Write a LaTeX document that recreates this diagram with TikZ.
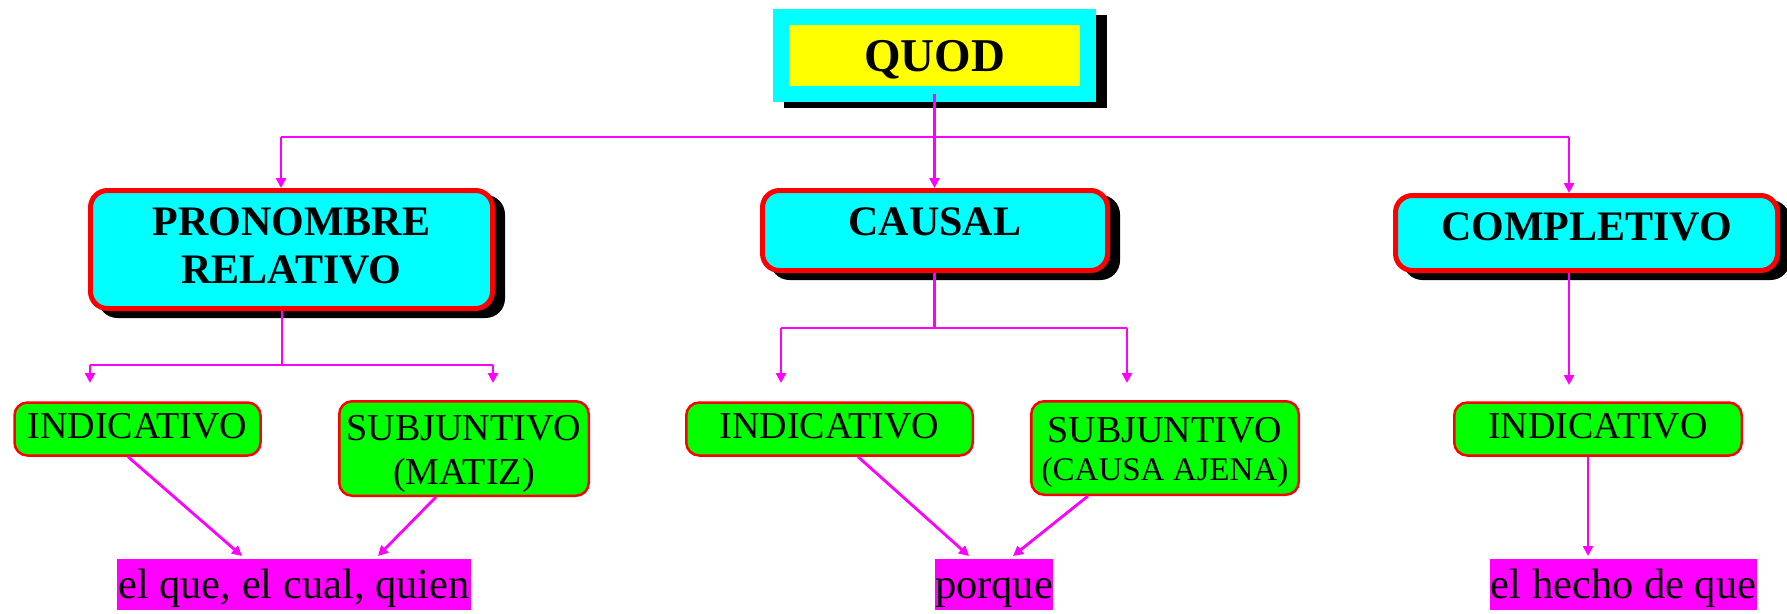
\documentclass[tikz,border=0pt]{standalone}
\usepackage{fontspec}
\setmainfont{Liberation Serif}
\usetikzlibrary{arrows.meta,shadows}
\definecolor{qcyan}{RGB}{0,255,255}
\definecolor{qyellow}{RGB}{255,255,0}
\definecolor{qred}{RGB}{255,0,0}
\definecolor{qgreen}{RGB}{0,255,0}
\definecolor{qmag}{RGB}{255,0,255}
\newcommand\qhdrfont{\fontsize{42}{48}\selectfont\bfseries}
\newcommand\qgrnfont{\fontsize{38}{44}\selectfont}
\newcommand\qmagfont{\fontsize{42.5}{48}\selectfont}
\tikzset{
  quodbox/.style={draw=qcyan, fill=qyellow, line width=16pt, inner sep=0pt,
    font=\fontsize{47}{52}\selectfont\bfseries, text height=35pt, text depth=4pt,
    general shadow={fill=black, draw=black, line width=16pt, shadow xshift=10.5pt, shadow yshift=-6pt}},
  hdr/.style={draw=qred, fill=qcyan, line width=5pt, rounded corners=17pt, inner sep=0pt,
    font=\qhdrfont,
    general shadow={fill=black, draw=black, line width=5pt, shadow xshift=10pt, shadow yshift=-7pt}},
  hdrtxt/.style={inner sep=0pt, align=center, font=\qhdrfont},
  grn/.style={draw=qred, fill=qgreen, line width=2.5pt, rounded corners=13pt, inner sep=0pt,
    font=\qgrnfont, text height=27pt, text depth=9pt},
  grnbox/.style={draw=qred, fill=qgreen, line width=2.5pt, rounded corners=13pt, inner sep=0pt},
  grntxt/.style={inner sep=0pt, align=center, font=\qgrnfont},
  magbox/.style={fill=qmag, inner sep=0pt, font=\qmagfont, text height=36pt, text depth=9pt,
    minimum height=51pt},
  ln/.style={draw=qmag, line width=2.8pt},
  arr/.style={draw=qmag, line width=2.8pt, -{Triangle[length=10pt,width=10pt]}},
}
\begin{document}
\begin{tikzpicture}[x=1pt,y=-1pt]
\useasboundingbox (0,0) rectangle (1787,613);

% top
\node[quodbox, minimum width=307pt, minimum height=77pt] (quod) at (934.5,55.5) {QUOD};

% level 1
\node[hdr, minimum width=402pt, minimum height=118pt] (pron) at (291.5,249.5) {};
\node[hdrtxt, anchor=north] (prontxt) at (291.5,207.5) {PRONOMBRE\\RELATIVO};
\node[hdr, minimum width=345pt, minimum height=80pt, text height=30pt, text depth=21pt] (caus) at (935,230.5) {CAUSAL};
\node[hdr, minimum width=382pt, minimum height=75pt, text height=30pt, text depth=16pt] (comp) at (1586.5,233) {COMPLETIVO};

% level 2
\node[grn, minimum width=246pt, minimum height=53pt] (ind1) at (137.5,429) {INDICATIVO};
\node[grnbox, minimum width=249.5pt, minimum height=94.5pt] (sub1) at (464,448.5) {};
\node[grntxt, anchor=north] (sub1txt) at (464,415) {SUBJUNTIVO\\(MATIZ)};
\node[grn, minimum width=286.5pt, minimum height=53pt] (ind2) at (829.5,429) {INDICATIVO};
\node[grnbox, minimum width=267.5pt, minimum height=93.5pt] (sub2) at (1165,448) {};
\node[grntxt, anchor=north, font=\fontsize{38}{38.5}\selectfont] (sub2txt) at (1165,417) {SUBJUNTIVO\\{\fontsize{33}{38.5}\selectfont(CAUSA AJENA)}};
\node[grn, minimum width=287.5pt, minimum height=53pt] (ind3) at (1598,429) {INDICATIVO};

% level 3
\node[magbox, minimum width=354pt] (elque) at (294,584.5) {el que, el cual, quien};
\node[magbox, minimum width=118pt] (porque) at (994,584.5) {porque};
\node[magbox, minimum width=267pt] (hecho) at (1623.5,584.5) {el hecho de que};

% connector coordinates
\coordinate (j0) at (934.5,137);
\coordinate (jL) at (281,137);
\coordinate (jR) at (1569,137);
\coordinate (p0) at (282,365);
\coordinate (pL) at (90,365);
\coordinate (pR) at (493,365);
\coordinate (pLe) at (90,383);
\coordinate (pRe) at (493,383);
\coordinate (c0) at (934.5,328);
\coordinate (cL) at (781,328);
\coordinate (cR) at (1127,328);
\coordinate (cLe) at (781,383);
\coordinate (cRe) at (1127,383);
\coordinate (kE) at (1569,385);
\coordinate (t1) at (242,556);
\coordinate (t2) at (378,556);
\coordinate (t3) at (969,556);
\coordinate (t4) at (1013,556);
\coordinate (t5) at (1588,556);

% QUOD to level 1
\draw[ln] ([yshift=8pt]quod.south) -- (j0);
\draw[ln] (jL) -- (jR);
\draw[arr] (jL) -- (jL |- pron.north);
\draw[arr] (j0) -- (j0 |- caus.north);
\draw[arr] (jR) -- (jR |- comp.north);

% PRONOMBRE RELATIVO branch
\draw[ln] (p0 |- pron.south) -- (p0);
\draw[ln] (pL) -- (pR);
\draw[arr] (pL) -- (pLe);
\draw[arr] (pR) -- (pRe);

% CAUSAL branch
\draw[ln] (c0 |- caus.south) -- (c0);
\draw[ln] (cL) -- (cR);
\draw[arr] (cL) -- (cLe);
\draw[arr] (cR) -- (cRe);

% COMPLETIVO branch
\draw[arr] (kE |- comp.south) -- (kE);

% to level 3
\draw[arr] (128,0 |- ind1.south) -- (t1);
\draw[arr] (436,0 |- sub1.south) -- (t2);
\draw[arr] (858,0 |- ind2.south) -- (t3);
\draw[arr] (1088,0 |- sub2.south) -- (t4);
\draw[arr] (t5 |- ind3.south) -- (t5);
\end{tikzpicture}
\end{document}
